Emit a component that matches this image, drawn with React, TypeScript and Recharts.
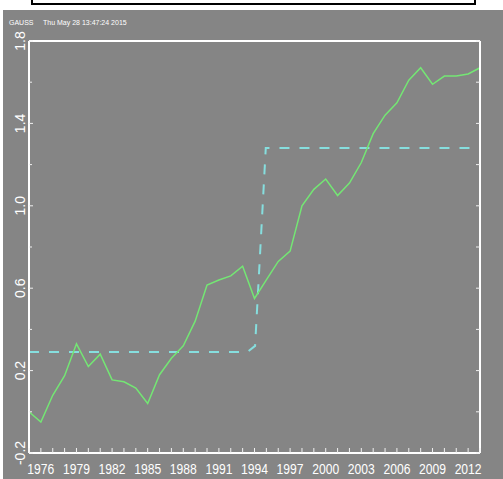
import React from 'react';
import { LineChart, Line, XAxis, YAxis } from 'recharts';

// yearly series (green) and the fitted step (dashed cyan)
const years = [
  1975, 1976, 1977, 1978, 1979, 1980, 1981, 1982, 1983, 1984, 1985, 1986, 1987,
  1988, 1989, 1990, 1991, 1992, 1993, 1994, 1995, 1996, 1997, 1998, 1999, 2000,
  2001, 2002, 2003, 2004, 2005, 2006, 2007, 2008, 2009, 2010, 2011, 2012, 2013,
];
const values = [
  0.0, -0.05, 0.08, 0.175, 0.33, 0.22, 0.28, 0.155, 0.146, 0.115, 0.04, 0.18, 0.26,
  0.32, 0.44, 0.615, 0.64, 0.66, 0.707, 0.55, 0.64, 0.73, 0.78, 1.0, 1.08, 1.13,
  1.05, 1.11, 1.21, 1.35, 1.44, 1.5, 1.61, 1.67, 1.59, 1.63, 1.63, 1.64, 1.67,
];
const stepYears = [1975, 1993.4, 1994.05, 1994.5, 1994.95, 2012.55];
const stepValues = [0.29, 0.29, 0.32, 0.8, 1.28, 1.28];

const xLabelYears = [1976, 1979, 1982, 1985, 1988, 1991, 1994, 1997, 2000, 2003, 2006, 2009, 2012];
const yTicks = [-0.2, 0, 0.2, 0.4, 0.6, 0.8, 1.0, 1.2, 1.4, 1.6, 1.8];
const yLabels = ['-0.2', '0.2', '0.6', '1.0', '1.4', '1.8'];

const GRAY = '#858585';
const GREEN = '#74e674';
const CYAN = '#86dede';
const FONT = '"Liberation Sans", Arial, sans-serif';

const seriesData = years.map((year, i) => ({ year, value: values[i] }));
const stepData = stepYears.map((year, i) => ({ year, level: stepValues[i] }));

const BottomTick = ({ x, y, payload }: any) => (
  <g>
    <line x1={x} y1={y} x2={x} y2={y - 5} stroke="#f0f0f0" strokeWidth={1} />
    {xLabelYears.includes(payload.value) && (
      <text
        x={x}
        y={y + 21}
        textAnchor="middle"
        fill="#fff"
        fontSize={14}
        fontFamily={FONT}
        textLength={27}
        lengthAdjust="spacingAndGlyphs"
      >
        {payload.value}
      </text>
    )}
  </g>
);

const TopTick = ({ x, y }: any) => (
  <line x1={x} y1={y} x2={x} y2={y + 4} stroke="#f0f0f0" strokeWidth={1} />
);

const LeftTick = ({ x, y, payload }: any) => {
  const label = payload.value.toFixed(1);
  const major = yLabels.includes(label);
  return (
    <g>
      <line x1={x} y1={y} x2={x + (major ? 4 : 3)} y2={y} stroke="#f0f0f0" strokeWidth={1} />
      {major && (
        <text
          x={x - 9}
          y={y}
          transform={`rotate(-90, ${x - 9}, ${y})`}
          textAnchor="middle"
          dominantBaseline="central"
          fill="#fff"
          fontSize={14}
          fontFamily={FONT}
        >
          {label}
        </text>
      )}
    </g>
  );
};

const RightTick = ({ x, y }: any) => (
  <line x1={x} y1={y} x2={x - 4} y2={y} stroke="#f0f0f0" strokeWidth={1} />
);

export default function App() {
  const axisLine = { stroke: '#fff', strokeWidth: 2 };
  return (
    <div style={{ position: 'fixed', left: 0, top: 0, width: 503, height: 479, background: '#fff', overflow: 'hidden' }}>
      <div
        style={{
          position: 'absolute',
          left: 31,
          top: -10,
          width: 445,
          height: 15,
          boxSizing: 'border-box',
          border: '2px solid #000',
          background: '#fff',
        }}
      />
      <div style={{ position: 'absolute', left: 3, top: 10, width: 500, height: 469, background: GRAY }} />
      <div
        style={{
          position: 'absolute',
          left: 9,
          top: 19,
          fontSize: 7,
          lineHeight: '8px',
          fontFamily: FONT,
          color: '#fff',
          whiteSpace: 'pre',
        }}
      >
        GAUSS
      </div>
      <div
        style={{
          position: 'absolute',
          left: 43,
          top: 19,
          fontSize: 7,
          lineHeight: '8px',
          fontFamily: FONT,
          color: '#fff',
          whiteSpace: 'pre',
        }}
      >
        Thu May 28 13:47:24 2015
      </div>
      <div style={{ position: 'absolute', left: 0, top: 0 }}>
        <LineChart width={503} height={479} margin={{ top: 40, right: 22, bottom: 25, left: 28 }}>
          <XAxis
            dataKey="year"
            type="number"
            domain={[1975, 2013]}
            allowDataOverflow
            ticks={years}
            interval={0}
            height={1}
            tickSize={0}
            tickMargin={0}
            tickLine={false}
            axisLine={axisLine}
            tick={<BottomTick />}
          />
          <XAxis
            xAxisId="top"
            orientation="top"
            type="number"
            domain={[1975, 2013]}
            allowDataOverflow
            ticks={years}
            interval={0}
            height={1}
            tickSize={0}
            tickMargin={0}
            tickLine={false}
            axisLine={axisLine}
            tick={<TopTick />}
          />
          <YAxis
            type="number"
            domain={[-0.2, 1.8]}
            allowDataOverflow
            ticks={yTicks}
            interval={0}
            width={1}
            tickSize={0}
            tickMargin={0}
            tickLine={false}
            axisLine={axisLine}
            tick={<LeftTick />}
          />
          <YAxis
            yAxisId="right"
            orientation="right"
            type="number"
            domain={[-0.2, 1.8]}
            allowDataOverflow
            ticks={yTicks}
            interval={0}
            width={1}
            tickSize={0}
            tickMargin={0}
            tickLine={false}
            axisLine={axisLine}
            tick={<RightTick />}
          />
          <Line
            data={stepData}
            dataKey="level"
            type="linear"
            stroke={CYAN}
            strokeWidth={2}
            strokeDasharray="10 10"
            dot={false}
            isAnimationActive={false}
          />
          <Line
            data={seriesData}
            dataKey="value"
            type="linear"
            stroke={GREEN}
            strokeWidth={1.5}
            dot={false}
            isAnimationActive={false}
          />
        </LineChart>
      </div>
    </div>
  );
}
